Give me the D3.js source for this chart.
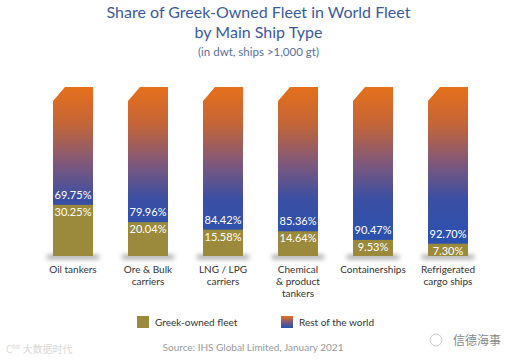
<!DOCTYPE html>
<html>
<head>
<meta charset="utf-8">
<style>
  body { margin: 0; background: #fff; }
  svg { display: block; font-family: Lato, "Open Sans", sans-serif; }
</style>
</head>
<body>
<div id="chart"></div>
<script src="https://d3js.org/d3.v7.min.js"></script>
<script>
// data
var categories = ["Oil tankers", "Ore & Bulk carriers", "LNG / LPG carriers", "Chemical & product tankers", "Containerships", "Refrigerated cargo ships"];
var catLines = [["Oil tankers"], ["Ore & Bulk", "carriers"], ["LNG / LPG", "carriers"], ["Chemical", "& product", "tankers"], ["Containerships"], ["Refrigerated", "cargo ships"]];
var greek = [30.25, 20.04, 15.58, 14.64, 9.53, 7.30];
var rest = [69.75, 79.96, 84.42, 85.36, 90.47, 92.70];
var legendKeys = ["Greek-owned fleet", "Rest of the world"];
var titleLines = ["Share of Greek-Owned Fleet in World Fleet", "by Main Ship Type"];

var width = 517, height = 363;
var olive = "#9b8a3b";

var svg = d3.select("#chart").append("svg")
    .attr("width", width)
    .attr("height", height);

var defs = svg.append("defs");

var x = d3.scaleBand()
    .domain(categories)
    .range([35.5, 485.5])
    .paddingInner(0.4667)
    .paddingOuter(0.2333);

var y = d3.scaleLinear()
    .domain([0, 100])
    .range([256, 87]);

// gradient for rest of world (whole bar height)
var grad = defs.append("linearGradient")
    .attr("id", "restGrad")
    .attr("gradientUnits", "userSpaceOnUse")
    .attr("x1", 0).attr("x2", 0)
    .attr("y1", y(100)).attr("y2", y(0));
grad.append("stop").attr("offset", 0).attr("stop-color", "#e5701a");
grad.append("stop").attr("offset", 0.22).attr("stop-color", "#c46538");
grad.append("stop").attr("offset", 0.45).attr("stop-color", "#80587a");
grad.append("stop").attr("offset", 0.66).attr("stop-color", "#3b4fa3");
grad.append("stop").attr("offset", 1).attr("stop-color", "#2452b4");

var lgGrad = defs.append("linearGradient")
    .attr("id", "legGrad")
    .attr("x1", 0).attr("x2", 0).attr("y1", 0).attr("y2", 1);
lgGrad.append("stop").attr("offset", 0).attr("stop-color", "#e5701a");
lgGrad.append("stop").attr("offset", 0.5).attr("stop-color", "#80587a");
lgGrad.append("stop").attr("offset", 1).attr("stop-color", "#2452b4");

var blur = defs.append("filter").attr("id", "shadow")
    .attr("x", "-50%").attr("y", "-200%").attr("width", "200%").attr("height", "500%");
blur.append("feGaussianBlur").attr("stdDeviation", 2.5);

// title
svg.selectAll(".title")
  .data(titleLines)
  .enter().append("text")
    .attr("class", "title")
    .attr("x", width / 2)
    .attr("y", function(d, i) { return 18 + i * 19.5; })
    .attr("text-anchor", "middle")
    .attr("fill", "#3a5a9c")
    .style("font-size", "16px")
    .text(function(d) { return d; });

svg.append("text")
    .attr("x", width / 2).attr("y", 56)
    .attr("text-anchor", "middle")
    .attr("fill", "#56709f")
    .style("font-size", "11.5px")
    .text("(in dwt, ships >1,000 gt)");

var data = categories.map(function(c, i) {
  return { cat: c, lines: catLines[i], greek: greek[i], rest: rest[i] };
});

var g = svg.append("g");

// soft shadow under each bar
g.selectAll(".shadow")
  .data(data)
  .enter().append("rect")
    .attr("class", "shadow")
    .attr("x", function(d) { return x(d.cat) - 6; })
    .attr("y", y(0) - 1)
    .attr("width", x.bandwidth() + 12)
    .attr("height", 4)
    .attr("fill", "#9a9a9a")
    .attr("filter", "url(#shadow)");

// full bar with chamfered top-left corner
var cx = 12, cy = 14;
g.selectAll(".rest")
  .data(data)
  .enter().append("path")
    .attr("class", "rest")
    .attr("fill", "url(#restGrad)")
    .attr("d", function(d) {
      var x0 = x(d.cat), x1 = x0 + x.bandwidth();
      var yt = y(d.greek + d.rest), yb = y(0);
      return "M" + x0 + "," + (yt + cy) + "L" + (x0 + cx) + "," + yt +
             "L" + x1 + "," + yt + "L" + x1 + "," + yb + "L" + x0 + "," + yb + "Z";
    });

g.selectAll(".greek")
  .data(data)
  .enter().append("rect")
    .attr("class", "greek")
    .attr("x", function(d) { return x(d.cat); })
    .attr("y", function(d) { return y(d.greek); })
    .attr("width", x.bandwidth())
    .attr("height", function(d) { return y(0) - y(d.greek); })
    .attr("fill", olive);

// value labels
g.selectAll(".lblRest")
  .data(data)
  .enter().append("text")
    .attr("x", function(d) { return x(d.cat) + x.bandwidth() / 2; })
    .attr("y", function(d) { return y(d.greek) - 6; })
    .attr("text-anchor", "middle")
    .attr("fill", "#fff")
    .style("font-size", "11px")
    .text(function(d) { return d.rest.toFixed(2) + "%"; });

g.selectAll(".lblGreek")
  .data(data)
  .enter().append("text")
    .attr("x", function(d) { return x(d.cat) + x.bandwidth() / 2; })
    .attr("y", function(d) { return y(d.greek) + 11; })
    .attr("text-anchor", "middle")
    .attr("fill", "#fff")
    .style("font-size", "11px")
    .text(function(d) { return d.greek.toFixed(2) + "%"; });

// category labels
var cl = g.selectAll(".cat")
  .data(data)
  .enter().append("text")
    .attr("class", "cat")
    .attr("text-anchor", "middle")
    .attr("fill", "#333")
    .style("font-size", "10px");
cl.selectAll("tspan")
  .data(function(d) { return d.lines.map(function(l) { return { l: l, cx: x(d.cat) + x.bandwidth() / 2 }; }); })
  .enter().append("tspan")
    .attr("x", function(d) { return d.cx; })
    .attr("y", function(d, i) { return 273 + i * 12; })
    .text(function(d) { return d.l; });

// legend
var legend = svg.append("g")
  .selectAll("g")
  .data(legendKeys)
  .enter().append("g")
    .attr("transform", function(d, i) { return "translate(" + (i ? 281 : 137) + ",316)"; });
legend.append("rect")
    .attr("width", 12).attr("height", 12)
    .attr("fill", function(d, i) { return i ? "url(#legGrad)" : olive; });
legend.append("text")
    .attr("x", 18).attr("y", 6)
    .attr("dy", "0.35em")
    .attr("fill", "#333")
    .style("font-size", "10px")
    .text(function(d) { return d; });

// source
svg.append("text")
    .attr("x", 253).attr("y", 351)
    .attr("text-anchor", "middle")
    .attr("fill", "#999")
    .style("font-size", "10px")
    .text("Source: IHS Global Limited, January 2021");

// watermarks
svg.append("text")
    .attr("x", 6).attr("y", 353)
    .attr("fill", "#d8d8d8")
    .style("font-family", "'Noto Sans CJK SC'")
    .style("font-size", "10px")
    .text("C⁰⁰ 大数据时代");
svg.append("circle").attr("cx", 436).attr("cy", 340).attr("r", 6)
    .attr("fill", "none").attr("stroke", "#bbb").attr("stroke-width", 0.8);
svg.append("text")
    .attr("x", 453).attr("y", 345)
    .attr("fill", "#888")
    .style("font-family", "'Noto Sans CJK SC'")
    .style("font-size", "12px")
    .text("信德海事");
</script>
</body>
</html>
